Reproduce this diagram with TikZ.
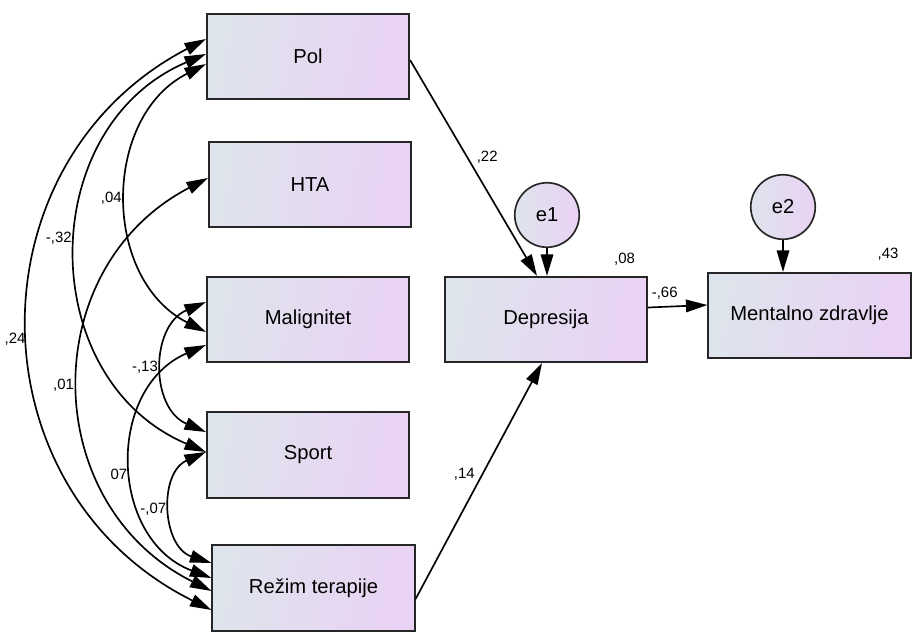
\documentclass[tikz,border=0pt]{standalone}
\usepackage{fontspec}
\setmainfont{Liberation Sans}
\usepackage{xcolor}
\usepackage{tikz}
\usetikzlibrary{arrows.meta}
\usetikzlibrary{shadings}

\definecolor{boxSx}{HTML}{DEE4EC}
\definecolor{boxDx}{HTML}{EAD2F4}

\tikzset{
    var/.style={rectangle, draw=black!85, line width=0.95pt,
                minimum width=4.05cm, minimum height=1.71cm,
                left color=boxSx, right color=boxDx, shading angle=80,
                font=\fontsize{11.5}{13}\selectfont},
    err/.style={circle, draw=black!85, line width=0.95pt, inner sep=0pt,
                minimum size=1.29cm, left color=boxSx, right color=boxDx,
                font=\fontsize{11.5}{13}\selectfont},
    reg/.style={line width=0.95pt, -{Triangle[length=4.3mm,width=2.5mm]}},
    cov/.style={line width=0.95pt, looseness=1.2,
                {Triangle[length=4.3mm,width=2.5mm]}-{Triangle[length=4.3mm,width=2.5mm]}},
    val/.style={font=\fontsize{8.5}{10}\selectfont, inner sep=1pt}
}

\begin{document}
\begin{tikzpicture}[x=0.02cm,y=-0.02cm]

        \useasboundingbox (0,0) rectangle (912,633);

            % Variabili osservate
        \node[var] (pol)    at (308,56.5)  {Pol};
        \node[var] (hta)    at (310,184.5) {HTA};
        \node[var] (malig)  at (308,319.5) {Malignitet};
        \node[var] (sport)  at (308,455)   {Sport};
        \node[var] (rezim)  at (313.5,588) {Režim terapije};
        \node[var] (depr)   at (546,319.5) {Depresija};
        \node[var] (mentz)  at (809.5,315.5) {Mentalno zdravlje};

            % Errori
        \node[err] (e1) at (547,215) {e1};
        \node[err] (e2) at (783,207) {e2};

            % Punti di attacco delle covarianze
        \coordinate (pol1)   at ([shift={(0,-17.5)}]pol.west);
        \coordinate (pol2)   at ([shift={(0,-2.5)}]pol.west);
        \coordinate (pol3)   at ([shift={(0,7.5)}]pol.west);
        \coordinate (hta1)   at ([shift={(0,-6.5)}]hta.west);
        \coordinate (malig1) at ([shift={(0,-17.5)}]malig.west);
        \coordinate (malig2) at ([shift={(0,12.5)}]malig.west);
        \coordinate (malig3) at ([shift={(0,25.5)}]malig.west);
        \coordinate (sport1) at ([shift={(0,-23)}]sport.west);
        \coordinate (sport2) at ([shift={(0,-3)}]sport.west);
        \coordinate (rezim1) at ([shift={(0,-25)}]rezim.west);
        \coordinate (rezim2) at ([shift={(0,-10)}]rezim.west);
        \coordinate (rezim3) at ([shift={(0,3)}]rezim.west);
        \coordinate (rezim4) at ([shift={(0,22)}]rezim.west);

            % Covarianze
        \draw[cov] (pol1) to[bend right=63] node[val,left=1pt,pos=0.52] (c24) {,24} (rezim4);
        \draw[cov] (pol2) to[bend right=67] node[val,left=2pt,pos=0.47] (c32) {-,32} (sport2);
        \draw[cov] (pol3) to[bend right=63,looseness=1.12] node[val,left=2pt] (c04) {,04} (malig2);
        \draw[cov] (hta1) to[bend right=63] node[val,left=2pt] (c01) {,01} (rezim3);
        \draw[cov] (malig1) to[bend right=67] node[val,left=2pt] (c13) {-,13} (sport1);
        \draw[cov] (malig3) to[bend right=68] node[val,left=2pt,pos=0.54] (c07) {07} (rezim2);
        \draw[cov] (sport2) to[bend right=69] node[val,left=2pt] (c07n) {-,07} (rezim1);

            % Effetti diretti
        \draw[reg] ([shift={(0,3.5)}]pol.east) -- ([shift={(-9,0)}]depr.north)
                   node[val,pos=0.45,right=4pt] (b22) {,22};
        \draw[reg] ([shift={(0,11)}]rezim.east) -- ([shift={(-4,0)}]depr.south)
                   node[val,pos=0.53,left=3pt] (b14) {,14};
        \draw[reg] ([shift={(0,-12)}]depr.east) -- ([shift={(0,-10.5)}]mentz.west)
                   node[val,pos=0.28,above=3pt] (b66) {-,66};
        \draw[reg] (e1.south) -- (e1.south |- depr.north);
        \draw[reg] (e2.south) -- (e2.south |- mentz.north);

            % R quadrato
        \node[val,anchor=south east] (r08) at ([shift={(-11,-8)}]depr.north east) {,08};
        \node[val,anchor=south east] (r43) at ([shift={(-11,-9)}]mentz.north east) {,43};

\end{tikzpicture}
\end{document}
